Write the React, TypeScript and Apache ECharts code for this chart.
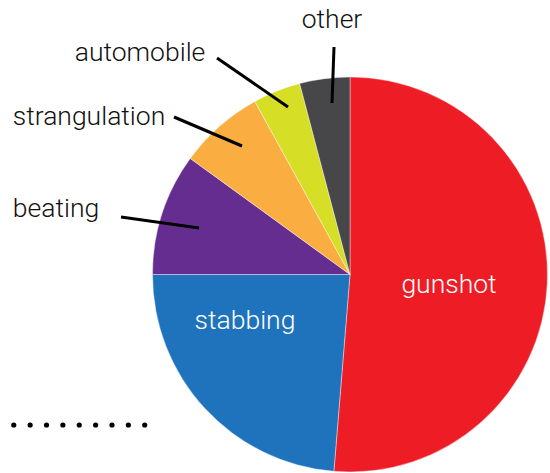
import React, { useEffect, useRef } from "react";
import * as echarts from "echarts";

const categories = ["gunshot", "stabbing", "beating", "strangulation", "automobile", "other"];
const values = [51.3, 23.7, 10.0, 7.0, 3.9, 4.1];
const colors = ["#EE1D25", "#1F73BD", "#652D90", "#FAAE42", "#D6DE26", "#47474A"];
const labelColors = ["#ffffff", "#ffffff", "#111111", "#111111", "#111111", "#111111"];
// label anchor positions (layout only)
const labelPos = [
  [449, 283],
  [245, 319],
  [56, 207],
  [89, 115],
  [140, 51],
  [332, 18],
];
// leader lines (layout only)
const leaders = [
  [121, 217, 199, 228],
  [174, 117, 242, 146],
  [217, 58, 288, 107],
  [334, 47, 332, 103],
];

export default function App() {
  const ref = useRef<HTMLDivElement>(null);
  useEffect(() => {
    if (!ref.current) return;
    const chart = echarts.init(ref.current, undefined, { renderer: "svg" });
    chart.setOption({
      animation: false,
      backgroundColor: "#ffffff",
      graphic: [
        ...leaders.map((l) => ({
          type: "line",
          z: 100,
          shape: { x1: l[0], y1: l[1], x2: l[2], y2: l[3] },
          style: { stroke: "#000", lineWidth: 3 },
        })),
        {
          type: "line",
          shape: { x1: -2.6, y1: 425, x2: 146, y2: 425 },
          style: { stroke: "#000", lineWidth: 5.2, lineCap: "round", lineDash: [0.01, 16.36] },
        },
      ],
      series: [
        {
          type: "pie",
          center: [350, 274.5],
          radius: [0, 197.5],
          startAngle: 90,
          clockwise: true,
          avoidLabelOverlap: false,
          itemStyle: { borderColor: "#ffffff", borderWidth: 0.4 },
          label: {
            show: true,
            position: "inside",
            formatter: "{b}",
            fontFamily: "Roboto",
            fontWeight: 300,
            fontSize: 26.5,
          },
          labelLine: { show: false },
          labelLayout: (p: any) => ({
            x: labelPos[p.dataIndex][0],
            y: labelPos[p.dataIndex][1],
            align: "center",
            verticalAlign: "middle",
          }),
          data: categories.map((c, i) => ({
            name: c,
            value: values[i],
            itemStyle: { color: colors[i] },
            label: { color: labelColors[i] },
          })),
        },
      ],
    });
    return () => chart.dispose();
  }, []);
  return (
    <div
      ref={ref}
      style={{ position: "fixed", left: 0, top: 0, width: 550, height: 473 }}
    />
  );
}
